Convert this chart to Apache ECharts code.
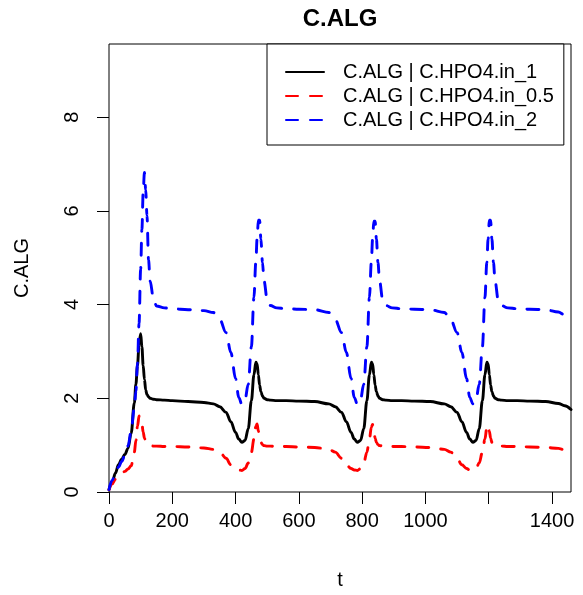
<!DOCTYPE html>
<html>
<head>
<meta charset="utf-8">
<script src="https://cdn.jsdelivr.net/npm/echarts@6/dist/echarts.min.js"></script>
<style>
html,body{margin:0;padding:0;background:#fff;}
#chart{width:583px;height:595px;}
</style>
</head>
<body>
<div id="chart"></div>
<script>
// ---- data ----
const tValues = [0,10,20,30,40,50,60,70,80,85,90,95,100,104,108,112,116,120,125,130,
  140,150,175,200,250,300,330,350,370,385,400,410,420,430,440,450,458,464,468,472,
  476,480,485,490,500,510,530,560,600,650,
  695,715,735,750,765,775,785,795,805,815,823,829,833,837,841,845,850,855,865,875,
  895,925,965,1015,
  1060,1080,1100,1115,1130,1140,1150,1160,1170,1180,1188,1194,1198,1202,1206,1210,1215,1220,1230,1240,
  1260,1290,1330,1380,1420,1440,1460];

const algIn1 = [0.05,0.2,0.4,0.58,0.7,0.8,0.93,1.25,1.9,2.3,2.7,3.15,3.38,3.1,2.7,2.4,2.18,2.08,2.03,2.0,
  1.98,1.97,1.96,1.95,1.93,1.91,1.88,1.82,1.7,1.5,1.27,1.13,1.06,1.1,1.35,1.95,2.5,2.77,2.74,2.5,
  2.28,2.14,2.05,2.0,1.97,1.96,1.95,1.95,1.94,1.93,
  1.88,1.82,1.7,1.5,1.27,1.13,1.06,1.1,1.35,1.95,2.5,2.77,2.74,2.5,2.28,2.14,2.05,2.0,1.97,1.96,
  1.95,1.95,1.94,1.93,
  1.88,1.82,1.7,1.5,1.27,1.13,1.06,1.1,1.35,1.95,2.5,2.77,2.74,2.5,2.28,2.14,2.05,2.0,1.97,1.96,
  1.95,1.95,1.94,1.93,1.89,1.84,1.76];

const algIn05 = [0.05,0.17,0.27,0.34,0.4,0.44,0.49,0.56,0.85,1.1,1.4,1.62,1.58,1.45,1.28,1.15,1.07,1.02,1.0,0.99,
  0.98,0.98,0.97,0.97,0.96,0.94,0.91,0.85,0.72,0.58,0.5,0.47,0.46,0.5,0.62,0.85,1.13,1.4,1.45,1.3,
  1.15,1.06,1.01,0.99,0.98,0.98,0.97,0.97,0.96,0.95,
  0.91,0.85,0.72,0.58,0.5,0.47,0.46,0.5,0.62,0.85,1.13,1.38,1.44,1.3,1.15,1.06,1.01,0.99,0.98,0.98,
  0.97,0.97,0.96,0.95,
  0.91,0.85,0.72,0.58,0.5,0.47,0.46,0.5,0.62,0.85,1.13,1.37,1.43,1.3,1.15,1.06,1.01,0.99,0.98,0.98,
  0.97,0.97,0.96,0.95,0.93,0.9,0.85];

const algIn2 = [0.05,0.25,0.4,0.53,0.65,0.78,0.98,1.3,1.8,2.15,2.75,3.6,4.75,5.6,6.4,6.82,6.45,5.9,4.95,4.5,
  4.15,3.97,3.93,3.91,3.89,3.87,3.83,3.68,3.4,2.98,2.42,2.02,1.87,1.98,2.3,3.1,4.15,4.9,5.4,5.8,
  5.8,5.4,4.9,4.5,4.1,3.98,3.93,3.91,3.9,3.89,
  3.83,3.68,3.4,2.98,2.42,2.02,1.87,1.98,2.3,3.1,4.15,4.9,5.4,5.78,5.78,5.4,4.9,4.5,4.1,3.98,
  3.93,3.91,3.9,3.89,
  3.83,3.68,3.4,2.98,2.42,2.02,1.88,1.98,2.3,3.1,4.15,4.9,5.4,5.8,5.8,5.4,4.9,4.5,4.1,3.98,
  3.93,3.91,3.9,3.89,3.84,3.78,3.65];

const seriesNames = ['C.ALG | C.HPO4.in_1','C.ALG | C.HPO4.in_0.5','C.ALG | C.HPO4.in_2'];
const xTickLabels = ['0','200','400','600','800','1000','','1400'];
const yTickLabels = ['0','2','4','6','8'];

// ---- chart ----
const FONT = 'Liberation Sans, Arial, Helvetica, sans-serif';
const chart = echarts.init(document.getElementById('chart'), null, {renderer:'canvas'});
const pairs = v => tValues.map((t,i)=>[t, v[i]]);
function lineSeries(name, vals, color, dashed){
  return {
    name: name, type:'line', data: pairs(vals), symbol:'none', showSymbol:false,
    smooth:0.35, smoothMonotone:'x',
    lineStyle:{color:color, width:2.9, type: dashed ? [12,12] : 'solid', cap:'round', join:'round'},
    itemStyle:{color:color},
    emphasis:{disabled:true}, silent:true
  };
}
chart.setOption({
  animation:false,
  backgroundColor:'#fff',
  title:{
    text:'C.ALG', left:340, top:7, textAlign:'center', padding:0,
    textStyle:{fontFamily:FONT, fontWeight:'bold', fontSize:24, color:'#000'}
  },
  grid:{left:109, right:12, top:44, bottom:102, show:true, borderColor:'#000', borderWidth:1, backgroundColor:'transparent'},
  legend:{
    left:267, top:44, orient:'vertical',
    padding:[18,10,15,18], itemGap:4, itemWidth:38, itemHeight:20,
    borderColor:'#000', borderWidth:1, backgroundColor:'#fff',
    itemStyle:{opacity:0},
    textStyle:{fontFamily:FONT, fontSize:20, color:'#000', lineHeight:20, padding:[0,0,0,14]},
    data: seriesNames, selectedMode:false
  },
  xAxis:{
    type:'value', min:0, max:1460, interval:200,
    name:'t', nameLocation:'middle', nameGap:78,
    nameTextStyle:{fontFamily:FONT, fontSize:20, color:'#000'},
    axisLine:{show:false},
    axisTick:{show:true, inside:false, length:12, lineStyle:{color:'#000', width:1}},
    axisLabel:{fontFamily:FONT, fontSize:20, color:'#000', margin:19, showMaxLabel:false,
      formatter:(v)=>{ const i = Math.round(v/200); return (v%200===0 && i < xTickLabels.length) ? xTickLabels[i] : ''; }},
    splitLine:{show:false}
  },
  yAxis:{
    type:'value', min:0, max:9.56, interval:2,
    name:'C.ALG', nameLocation:'middle', nameGap:77, nameRotate:90,
    nameTextStyle:{fontFamily:FONT, fontSize:20, color:'#000'},
    axisLine:{show:false},
    axisTick:{show:true, inside:false, length:12, lineStyle:{color:'#000', width:1}},
    axisLabel:{fontFamily:FONT, fontSize:20, color:'#000', margin:27, rotate:90, showMaxLabel:false,
      formatter:(v)=>{ const i = Math.round(v/2); return (Math.abs(v-2*i)<1e-9 && i < yTickLabels.length) ? yTickLabels[i] : ''; }},
    splitLine:{show:false}
  },
  series:[
    lineSeries(seriesNames[0], algIn1, '#000000', false),
    lineSeries(seriesNames[1], algIn05, '#ff0000', true),
    lineSeries(seriesNames[2], algIn2, '#0000ff', true)
  ]
});
</script>
</body>
</html>
